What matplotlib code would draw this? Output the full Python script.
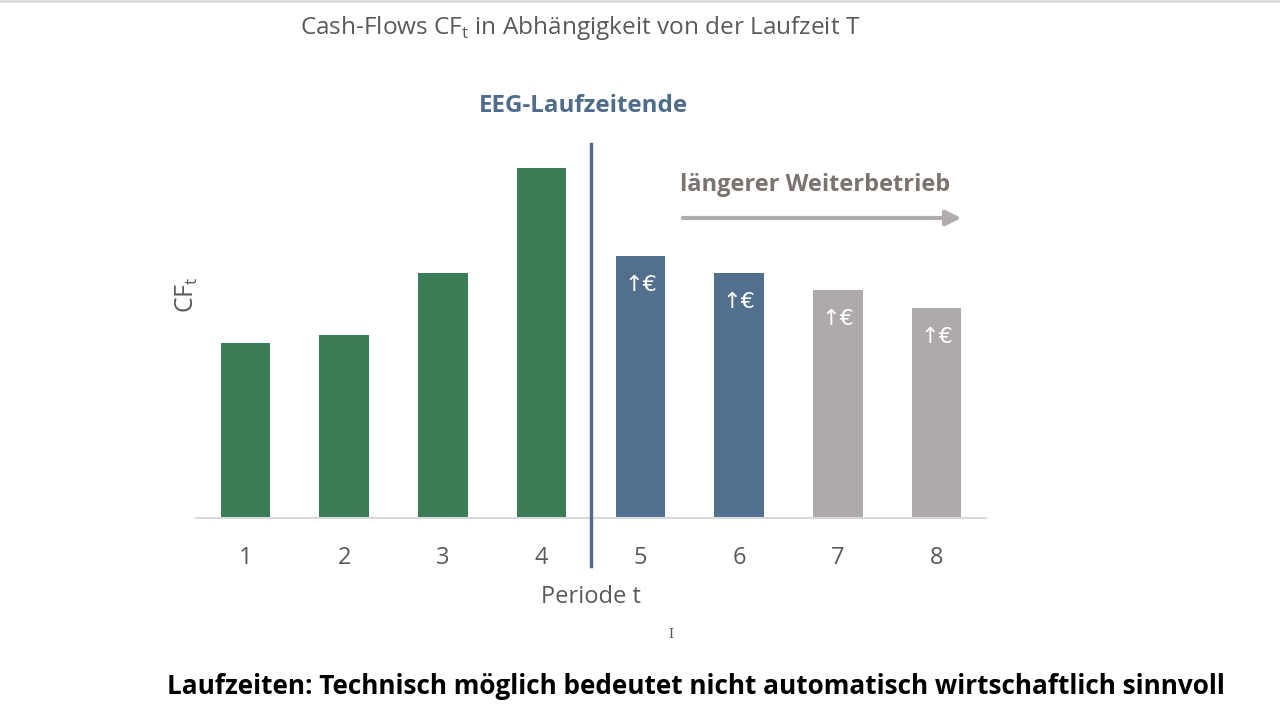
import matplotlib
matplotlib.use("Agg")
import matplotlib.pyplot as plt
from matplotlib.patches import FancyArrowPatch
from matplotlib.lines import Line2D

plt.rcParams['font.family'] = ['Open Sans', 'DejaVu Sans']

periods = [1, 2, 3, 4, 5, 6, 7, 8]
cash_flows = [175, 183, 245, 350, 262, 245, 228, 210]
bar_colors = ['#3b7d57', '#3b7d57', '#3b7d57', '#3b7d57',
              '#52708e', '#52708e', '#aeaaa9', '#aeaaa9']
bar_labels = ['', '', '', '', '↑€', '↑€', '↑€', '↑€']

W, H = 1280, 719
fig = plt.figure(figsize=(W / 100, H / 100), dpi=100)
ax = fig.add_axes([196 / W, (H - 518) / H, (986 - 196) / W, (518 - 140) / H])

ax.bar(periods, cash_flows, width=0.5, color=bar_colors, zorder=2)
ax.set_xlim(0.5, 8.5)
ax.set_ylim(0, 378)

for s in ['top', 'right', 'left']:
    ax.spines[s].set_visible(False)
ax.spines['bottom'].set_color('#d9d9d9')
ax.spines['bottom'].set_linewidth(1.5)
ax.set_yticks([])
ax.set_xticks(periods)
ax.set_xticklabels([str(p) for p in periods], fontsize=17, color='#595959')
ax.tick_params(axis='x', length=0, pad=20)

for p, v, lab in zip(periods, cash_flows, bar_labels):
    if lab:
        ax.text(p, v - 29, lab, ha='center', va='center', color='white',
                fontsize=16, family=['DejaVu Sans'])

# EEG end line
ax.plot([4.5, 4.5], [-48, 374], color='#4f6d8a', lw=2.5, clip_on=False, zorder=3)

fig.text(591 / W, 1 - 597 / H, 'Periode t', ha='center', va='center',
         fontsize=17, color='#595959')
fig.text(187 / W, 1 - 295 / H, 'CF$_\\mathregular{t}$', ha='center', va='center',
         rotation=90, fontsize=18, color='#595959')

fig.text(580 / W, 1 - 28 / H, 'Cash-Flows CF$_\\mathregular{t}$ in Abhängigkeit von der Laufzeit T',
         ha='center', va='center', fontsize=17.6, color='#595959')
fig.text(583 / W, 1 - 106 / H, 'EEG-Laufzeitende', ha='center', va='center',
         fontsize=17.4, fontweight='bold', color='#4f6d8a')
fig.text(815 / W, 1 - 185 / H, 'längerer Weiterbetrieb', ha='center', va='center',
         fontsize=17, fontweight='bold', color='#7a7370')

arrow = FancyArrowPatch((680 / W, 1 - 218 / H), (964 / W, 1 - 218 / H),
                        transform=fig.transFigure,
                        arrowstyle='-|>,head_length=9,head_width=4.5',
                        color='#b0acab', lw=3, mutation_scale=1)
fig.patches.append(arrow)

fig.text(696 / W, 1 - 687 / H,
         'Laufzeiten: Technisch möglich bedeutet nicht automatisch wirtschaftlich sinnvoll',
         ha='center', va='center', fontsize=18.8, fontweight='bold', color='black')

# thin grey line at the top edge and text cursor mark
fig.add_artist(Line2D([0, 1], [1 - 1 / H, 1 - 1 / H], transform=fig.transFigure,
                      color='#dcdcdc', lw=2))
fig.text(671 / W, 1 - 634 / H, 'I', ha='center', va='center', fontsize=9,
         color='#555555', family=['DejaVu Serif'])

fig.savefig('out.png', dpi=100, facecolor='white')
